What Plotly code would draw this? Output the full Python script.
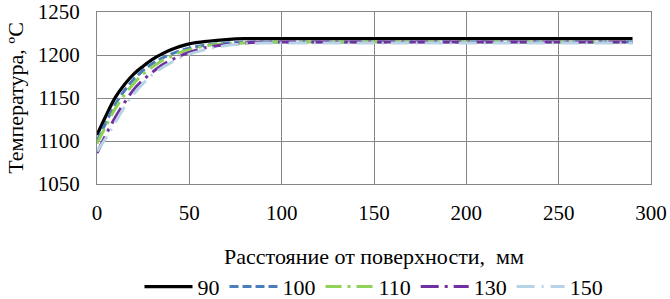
import plotly.graph_objects as go

x_mm = [0, 5, 10, 15, 20, 25, 30, 35, 40, 45, 50, 60, 70, 80, 90, 100, 120, 140, 160, 180, 200, 220, 240, 260, 280, 290]

t_90 = [1107, 1130, 1151, 1166, 1178, 1187, 1195, 1201, 1206, 1210, 1213, 1216, 1218, 1219, 1219, 1219, 1219, 1219, 1219, 1219, 1219, 1219, 1219, 1219, 1219, 1219]
t_100 = [1100, 1122, 1143, 1159, 1172, 1182, 1190, 1196, 1201, 1205, 1208, 1212, 1214, 1215, 1215, 1215, 1215, 1215, 1215, 1215, 1215, 1215, 1215, 1215, 1215, 1215]
t_110 = [1097, 1118, 1138, 1154, 1167, 1178, 1186, 1193, 1198, 1203, 1206, 1211, 1213, 1214, 1215, 1215, 1215, 1215, 1215, 1215, 1215, 1215, 1215, 1215, 1215, 1215]
t_130 = [1086, 1108, 1128, 1145, 1160, 1171, 1180, 1188, 1194, 1199, 1203, 1209, 1212, 1214, 1215, 1215, 1215, 1215, 1215, 1215, 1215, 1215, 1215, 1215, 1215, 1215]
t_150 = [1088, 1104, 1122, 1140, 1155, 1167, 1177, 1185, 1191, 1197, 1201, 1207, 1211, 1213, 1214, 1214, 1214, 1214, 1214, 1214, 1214, 1214, 1214, 1214, 1214, 1214]

series_names = ["90", "100", "110", "130", "150"]
series_values = [t_90, t_100, t_110, t_130, t_150]
colors = ["#000000", "#4A7EBB", "#8FD15A", "#7030A0", "#B9D3E6"]
dashes = ["solid", "9px,4px", "16px,6px,3px,6px", "18px,6px,3px,6px", "18px,7px,2px,7px"]
widths = [3.25, 3, 3, 3, 3]

fig = go.Figure()
for name, vals, c, d, w in zip(series_names, series_values, colors, dashes, widths):
    fig.add_trace(go.Scatter(x=x_mm, y=vals, name=name, mode="lines",
                             line=dict(color=c, dash=d, width=w, shape="spline")))

font = "Times New Roman"
fig.update_layout(
    width=670, height=299,
    margin=dict(l=97, r=19, t=12, b=115, autoexpand=False),
    paper_bgcolor="white", plot_bgcolor="white",
    font=dict(family=font, size=21, color="#000000"),
    showlegend=True,
    legend=dict(orientation="h", x=0.5, xanchor="center", y=-0.475, yanchor="top",
                font=dict(size=22, family=font), itemwidth=48, tracegroupgap=0,
                bgcolor="rgba(0,0,0,0)"),
    xaxis=dict(range=[0, 300], dtick=50, showgrid=True, gridcolor="#868686", gridwidth=1,
               showline=True, linecolor="#868686", mirror=True, zeroline=False,
               ticks="", ticklabelstandoff=10, automargin=False,
               title=dict(text="Расстояние от поверхности,  мм", standoff=24,
                          font=dict(size=22, family=font))),
    yaxis=dict(range=[1050, 1250], dtick=50, showgrid=True, gridcolor="#868686", gridwidth=1,
               showline=True, linecolor="#868686", mirror=True, zeroline=False,
               ticks="", ticklabelstandoff=12, automargin=False,
               title=dict(text="Температура, ºC", standoff=8,
                          font=dict(size=22, family=font))),
)

fig.write_html(
    "out.html",
    config={"displayModeBar": False},
    post_script="document.body.style.margin='0';document.body.style.overflow='hidden';",
)
